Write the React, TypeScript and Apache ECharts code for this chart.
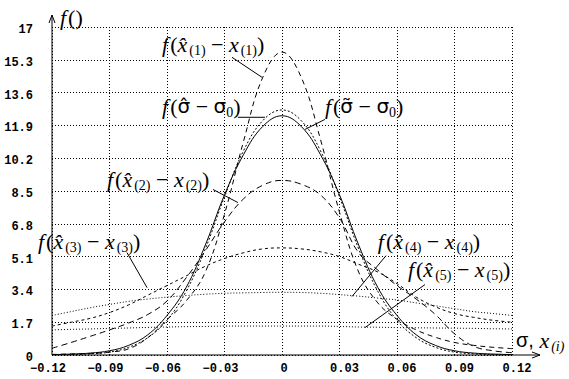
import React, { useEffect, useRef } from "react";
import * as echarts from "echarts";

// ---- data ----
const X = [-0.12, -0.11, -0.1, -0.09, -0.08, -0.07, -0.06, -0.05, -0.04, -0.03, -0.02, -0.01, 0,
  0.01, 0.02, 0.03, 0.04, 0.05, 0.06, 0.07, 0.08, 0.09, 0.1, 0.11, 0.12];

const F_X1 = [0.03, 0.05, 0.08, 0.15, 0.32, 0.9, 1.83, 2.8, 4.3, 7.3, 11.1, 14.4, 15.7,
  14.4, 11.2, 7.4, 4.3, 2.7, 1.85, 1.3, 0.92, 0.65, 0.5, 0.4, 0.33];
const F_SIG_HAT = [0.02, 0.05, 0.1, 0.22, 0.5, 1.05, 2.05, 3.5, 5.7, 8.3, 10.4, 11.85, 12.4,
  11.85, 10.4, 8.3, 5.7, 3.5, 2.05, 1.05, 0.5, 0.22, 0.1, 0.05, 0.02];
const F_SIG_TIL = [0.01, 0.02, 0.06, 0.15, 0.4, 0.9, 1.8, 3.3, 5.5, 8.2, 10.6, 12.15, 12.7,
  12.15, 10.6, 8.2, 5.5, 3.3, 1.8, 0.9, 0.4, 0.15, 0.06, 0.02, 0.01];
const F_X2 = [0.35, 0.65, 0.97, 1.3, 1.66, 2.1, 2.8, 4.0, 5.4, 6.9, 8.1, 8.8, 9.05,
  8.85, 8.3, 7.1, 5.3, 4.4, 3.6, 2.9, 2.1, 1.1, 0.45, 0.22, 0.12];
const F_X3 = [1.5, 1.7, 1.9, 2.2, 2.6, 3.1, 3.6, 4.1, 4.6, 5.0, 5.3, 5.5, 5.55,
  5.5, 5.35, 5.1, 4.7, 4.3, 3.7, 3.0, 2.5, 2.15, 1.95, 1.8, 1.7];
const F_X4 = [2.05, 2.25, 2.45, 2.62, 2.78, 2.9, 3.0, 3.08, 3.15, 3.2, 3.22, 3.24, 3.25,
  3.24, 3.2, 3.13, 3.05, 2.95, 2.85, 2.7, 2.55, 2.4, 2.25, 2.15, 2.05];
const F_X5 = [1.3, 1.33, 1.35, 1.38, 1.4, 1.43, 1.45, 1.47, 1.48, 1.5, 1.5, 1.5, 1.5,
  1.5, 1.5, 1.48, 1.45, 1.44, 1.42, 1.41, 1.4, 1.39, 1.38, 1.36, 1.35];

const X_MIN = -0.12, X_MAX = 0.12, X_STEP = 0.03;
const Y_MIN = 0, Y_MAX = 17, Y_STEP = 1.7;

// annotation texts (rich) with anchors in data coordinates
const LABELS = [
  { text: "{i|f}{n|(}{i|x\u0302}{s|(1)}{n| \u2212 }{i|x}{s|(1)}{n|)}", at: [-0.0626, 16.1], from: [-0.0261, 15.43], to: [-0.0104, 14.39] },
  { text: "{i|f}{n|(}{g|\u03c3\u0302}{n| \u2212 }{g|\u03c3}{s|0}{n|)}", at: [-0.0626, 12.89], from: [-0.023, 12.32], to: [-0.0089, 12.32] },
  { text: "{i|f}{n|(}{g|\u03c3\u0303}{n| \u2212 }{g|\u03c3}{s|0}{n|)}", at: [0.0224, 12.89], from: [0.012, 11.69], to: [0.0224, 12.21] },
  { text: "{i|f}{n|(}{i|x\u0302}{s|(2)}{n| \u2212 }{i|x}{s|(2)}{n|)}", at: [-0.0913, 9.1], from: [-0.036, 8.58], to: [-0.023, 7.9] },
  { text: "{i|f}{n|(}{i|x\u0302}{s|(3)}{n| \u2212 }{i|x}{s|(3)}{n|)}", at: [-0.1273, 5.88], from: [-0.0809, 5.31], to: [-0.0704, 3.49] },
  { text: "{i|f}{n|(}{i|x\u0302}{s|(4)}{n| \u2212 }{i|x}{s|(4)}{n|)}", at: [0.05, 5.88], from: [0.0543, 5.15], to: [0.0365, 3.03] },
  { text: "{i|f}{n|(}{i|x\u0302}{s|(5)}{n| \u2212 }{i|x}{s|(5)}{n|)}", at: [0.0657, 4.43], from: [0.0746, 3.65], to: [0.0433, 1.42] },
];

const RICH = {
  i: { fontFamily: "Liberation Serif", fontStyle: "italic", fontSize: 22, lineHeight: 26, fill: "#000", padding: [0, 2, 0, 0] },
  n: { fontFamily: "Liberation Serif", fontSize: 22, lineHeight: 26, fill: "#000" },
  g: { fontFamily: "DejaVu Sans", fontSize: 20, lineHeight: 26, fill: "#000" },
  g2: { fontFamily: "Liberation Sans", fontSize: 20, lineHeight: 26, fill: "#000" },
  s: { fontFamily: "Liberation Serif", fontSize: 14, lineHeight: 12, verticalAlign: "bottom", fill: "#000" },
  si: { fontFamily: "Liberation Serif", fontStyle: "italic", fontSize: 14, lineHeight: 12, verticalAlign: "bottom", fill: "#000" },
};

function pairs(ys: number[]) {
  return X.map((x, k) => [x, ys[k]]);
}

function fmtX(v: number) {
  const r = Math.round(v * 100) / 100;
  if (r === 0) return "{z|0}";
  if (r < 0) return "{n|\u2212" + Math.abs(r).toFixed(2) + "}";
  return "{p|" + r.toFixed(2) + "}";
}
function fmtY(v: number) {
  const r = Math.round(v * 10) / 10;
  return "{a|" + String(r) + "}";
}

export default function App() {
  const ref = useRef<HTMLDivElement>(null);
  useEffect(() => {
    document.body.style.margin = "0";
    const chart = echarts.init(ref.current!, null, { renderer: "svg" });
    const lineSeries = (name: string, ys: number[], type: any) => ({
      name,
      type: "line",
      data: pairs(ys),
      smooth: 0.4,
      showSymbol: false,
      symbol: "none",
      lineStyle: { color: "#000", width: 1, type },
      emphasis: { disabled: true },
    });
    const tickFont = { fontFamily: "Liberation Mono", fontWeight: "bold", fontSize: 12, color: "#000" };
    chart.setOption({
      animation: false,
      backgroundColor: "#fff",
      grid: { left: 52, right: 57, top: 27, bottom: 24, containLabel: false },
      xAxis: {
        type: "value",
        min: X_MIN,
        max: X_MAX,
        interval: X_STEP,
        axisLine: { show: false },
        axisTick: { show: false },
        splitLine: { show: true, lineStyle: { color: "#000", type: [1, 2], width: 1 } },
        axisLabel: {
          margin: 8,
          formatter: fmtX,
          showMinLabel: true,
          showMaxLabel: true,
          rich: {
            n: { ...tickFont, padding: [0, 8, 0, 0] },
            p: { ...tickFont, padding: [0, 0, 0, 10] },
            z: { ...tickFont, padding: [0, 0, 0, 4] },
          },
        },
      },
      yAxis: {
        type: "value",
        min: Y_MIN,
        max: Y_MAX,
        interval: Y_STEP,
        axisLine: { show: false },
        axisTick: { show: false },
        splitLine: { show: true, lineStyle: { color: "#000", type: [1, 2], width: 1 } },
        axisLabel: {
          margin: 19,
          formatter: fmtY,
          showMinLabel: true,
          showMaxLabel: true,
          verticalAlign: "middle",
          verticalAlignMinLabel: "middle",
          verticalAlignMaxLabel: "middle",
          rich: {
            a: { ...tickFont, padding: [6, 0, 0, 0] },
          },
        },
      },
      series: [
        lineSeries("x1", F_X1, [5, 4]),
        lineSeries("sigmaHat", F_SIG_HAT, "solid"),
        lineSeries("sigmaTilde", F_SIG_TIL, [2, 2]),
        lineSeries("x2", F_X2, [6, 4]),
        lineSeries("x3", F_X3, [3, 3]),
        lineSeries("x4", F_X4, [1, 2]),
        lineSeries("x5", F_X5, [1, 2]),
      ],
    });

    const px = (p: number[]) => chart.convertToPixel({ gridIndex: 0 }, p) as number[];
    const o = px([X_MIN, Y_MIN]);
    const top = px([X_MIN, Y_MAX]);
    const right = px([X_MAX, Y_MIN]);
    const yTop = top[1] - 12;
    const xEnd = right[0] + 28;
    const ln = (x1: number, y1: number, x2: number, y2: number) => ({
      type: "line",
      shape: { x1, y1, x2, y2 },
      style: { stroke: "#000", lineWidth: 1 },
      silent: true,
    });
    const graphic: any[] = [
      ln(o[0], o[1], o[0], yTop),
      { type: "polyline", shape: { points: [[o[0] - 3, yTop + 8], [o[0], yTop], [o[0] + 3, yTop + 8]] }, style: { stroke: "#000", fill: null, lineWidth: 1 } },
      ln(o[0], o[1], xEnd, o[1]),
      { type: "polyline", shape: { points: [[xEnd - 8, o[1] - 3], [xEnd, o[1]], [xEnd - 8, o[1] + 3]] }, style: { stroke: "#000", fill: null, lineWidth: 1 } },
      {
        type: "text",
        x: o[0] + 8,
        y: yTop + 2,
        style: { text: "{i|f}{n|()}", rich: RICH, align: "left", verticalAlign: "middle", fill: "#000" },
      },
      {
        type: "text",
        x: right[0] + 4,
        y: o[1] - 15,
        style: { text: "{g2|\u03c3,}{n| }{i|x}{si|(i)}", rich: RICH, align: "left", verticalAlign: "middle", fill: "#000" },
      },
    ];
    LABELS.forEach((L) => {
      const a = px(L.at);
      const f = px(L.from);
      const t = px(L.to);
      graphic.push({
        type: "text",
        x: a[0],
        y: a[1],
        style: { text: L.text, rich: RICH, align: "left", verticalAlign: "middle", fill: "#000" },
      });
      graphic.push(ln(f[0], f[1], t[0], t[1]));
    });
    chart.setOption({ graphic });
    return () => chart.dispose();
  }, []);
  return <div ref={ref} style={{ width: 569, height: 379 }} />;
}
